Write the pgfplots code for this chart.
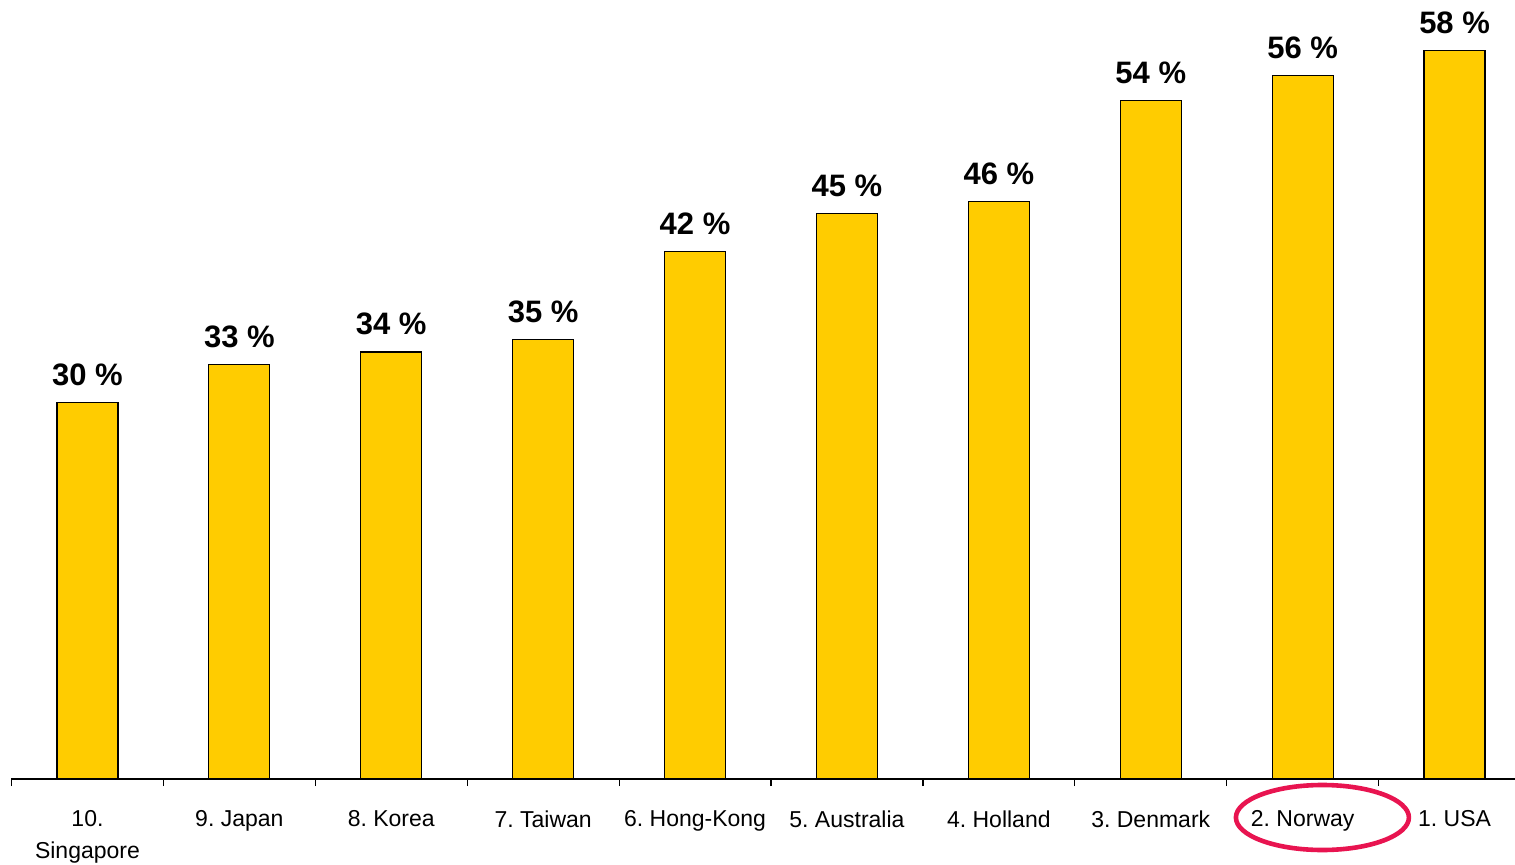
\documentclass[border=0pt]{standalone}
\usepackage{pgfplots}
\pgfplotsset{compat=1.18}
\usepackage{fontspec}
\setmainfont{Liberation Sans}
\definecolor{baryellow}{HTML}{FFCC00}
\definecolor{ringred}{RGB}{232,20,80}
\frenchspacing
\begin{document}
\frenchspacing
\begin{tikzpicture}
\begin{axis}[
  x=75.95pt, y=6.28pt,
  xmin=-0.5, xmax=9.4, ymin=0, ymax=60,
  enlargelimits=false,
  clip=false,
  axis x line*=bottom, axis y line=none,
  x axis line style={-, line width=0.75pt},
  ybar, bar width=30.5pt,
  xtick={0,...,9},
  xticklabels={{10.\\Singapore},{9. Japan},{8. Korea},{7. Taiwan},{6. Hong-Kong},{5. Australia},{4. Holland},{3. Denmark},{2. Norway},{1. USA}},
  major tick length=0pt,
  minor xtick={-0.5,0.5,...,8.5},
  minor tick length=3.5pt,
  tick align=outside,
  minor tick style={line width=0.6pt, black},
  xticklabel style={font=\frenchspacing\fontsize{11.5}{16}\selectfont, align=center, anchor=north, inner sep=0pt, yshift=-15.5pt},
  nodes near coords={\pgfmathprintnumber[assume math mode=true]{\pgfplotspointmeta}~\%},
  every node near coord/.append style={font=\bfseries\fontsize{15.5}{18}\selectfont, anchor=base, inner sep=0pt, yshift=8.5pt, black},
]
\addplot[fill=baryellow, draw=black, line width=0.6pt] coordinates {
  (0,30) (1,33) (2,34) (3,35) (4,42) (5,45) (6,46) (7,54) (8,56) (9,58)
};
\coordinate (o) at (axis cs:-0.5,0);
\draw[ringred, line width=2.3pt] (axis cs:8.13,-3.065) ellipse [x radius=43.25pt, y radius=16.25pt];
\end{axis}
\pgfresetboundingbox
\path ([shift={(-5.75pt,-42.5pt)}]o) rectangle ([shift={(751.75pt,389.5pt)}]o);
\end{tikzpicture}
\end{document}
